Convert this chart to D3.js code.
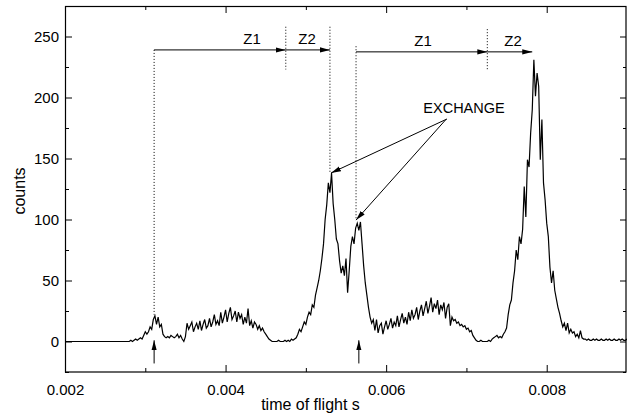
<!DOCTYPE html>
<html>
<head>
<meta charset="utf-8">
<script src="https://cdn.jsdelivr.net/npm/d3@7"></script>
<style>
body { margin: 0; background: #fff; }
svg { display: block; font-family: 'Liberation Sans', Arial, sans-serif; }
</style>
</head>
<body>
<svg id="chart" width="627" height="419"></svg>
<script>
// time of flight spectrum, one value per 20 us bin starting at 2 ms
var t_start = 0.002;
var bin_width = 0.00002;
var counts = [
    0,0,0,0,0,0,0,0,0,0, 0,0,0,0,0,0,0,0,0,0, 0,0,0,0,0,0,0,0,0,0, 0,0,0,0,0,0,0,0,0,0,
    0,1,0,1,2,1,2,3,2,
    5,8,6,
    8,12,10,18,21,14,20,12,14,6,4,
    3,4,3,5,4,3,4,6,3,5,2,
    0,4,
    15,10,13,16,8,12,15,10,17,9,14,18,11,13,19,12,16,22,14,17,13,24,15,20,26,16,23,28,18,21,25,16,24,19,
    22,14,20,15,27,13,17,11,16,14,10,13,9,11,8,6,4,2,1,0,
    0,0,0,1,0,0,0,1,0,1,0,2,1,2,
    3,6,10,8,12,16,14,20,24,22,30,28,38,44,50,58,68,80,100,112,130,122,138,113,100,
    84,80,66,56,62,54,68,40,58,78,86,80,93,97,91,98,80,62,48,38,28,20,15,18,
    9,18,7,13,15,6,12,17,10,14,19,11,16,13,21,12,18,23,15,20,14,24,17,26,19,22,28,18,25,30,
    21,27,33,23,29,36,24,31,27,34,22,30,26,32,19,28,31,13,
    20,17,18,15,16,13,14,12,13,10,11,8,9,5,3,1,0,
    0,1,0,0,0,0,1,0,2,3,4,5,3,4,3,6,
    8,11,22,30,34,48,58,75,67,86,80,92,127,102,149,143,171,190,231,201,
    220,209,149,182,130,116,97,86,61,48,58,42,35,28,23,17,12,15,9,15,7,10,7,8,4,6,3,9,3,2,
    2,1,2,1,1,2,1,2,1,1,2,1,1,2,1,2,1,1,2,1,1,2,1,2,1,1,2
];

var x_ticks = [0.002, 0.004, 0.006, 0.008];
var x_minor = [0.003, 0.005, 0.007, 0.009];
var y_ticks = [0, 50, 100, 150, 200, 250];
var y_minor = [-25, 25, 75, 125, 175, 225, 275];

// annotations, in data units: [t, counts from, counts to]
var dotted_lines = [
    [0.00311, 239, 22],
    [0.00475, 258, 223],
    [0.00530, 258, 138],
    [0.005625, 242, 100],
    [0.00726, 256, 223],
];
// [t from, t to, counts]
var z_arrows = [
    [0.00311, 0.00475, 239],
    [0.00475, 0.00530, 239],
    [0.005625, 0.00726, 237.4],
    [0.00726, 0.00782, 237.4],
];
var z_labels = [
    ['Z1', 0.00433, 244],
    ['Z2', 0.005014, 244],
    ['Z1', 0.006459, 242],
    ['Z2', 0.00758, 242],
];
var exchange_label = ['EXCHANGE', 0.00697, 187.3];
// [t from, c from, t to, c to]
var exchange_arrows = [
    [0.006758, 182.4, 0.005313, 138.1],
    [0.006745, 182.0, 0.005625, 99.5],
];
var up_arrows = [0.00311, 0.00566];

var svg = d3.select('#chart');

var x = d3.scaleLinear().domain([0.002, 0.009]).range([65, 627]);
var y = d3.scaleLinear().domain([-25, 275]).range([372, 6]);

svg.append('defs').append('marker')
    .attr('id', 'head')
    .attr('markerUnits', 'userSpaceOnUse')
    .attr('viewBox', '0 -3 10 6')
    .attr('refX', 10)
    .attr('refY', 0)
    .attr('markerWidth', 10)
    .attr('markerHeight', 6)
    .attr('orient', 'auto')
  .append('path')
    .attr('d', 'M0,-2.6L10,0L0,2.6Z')
    .attr('fill', '#000');

// axes, ticks pointing in
function axis_group(gen, tx, ty) {
    var g = svg.append('g')
        .attr('transform', 'translate(' + tx + ',' + ty + ')')
        .call(gen);
    g.select('.domain').remove();
    g.selectAll('line').attr('stroke', '#000');
    g.selectAll('text')
        .attr('font-size', 15)
        .attr('font-family', null)
        .attr('fill', '#000');
    return g;
}

axis_group(d3.axisBottom(x).tickValues(x_ticks).tickSize(-7).tickPadding(12)
    .tickFormat(d3.format('.3f')), 0, 372);
axis_group(d3.axisBottom(x).tickValues(x_minor).tickSize(-4).tickFormat(''), 0, 372);
axis_group(d3.axisTop(x).tickValues(x_ticks).tickSize(-7).tickFormat(''), 0, 6);
axis_group(d3.axisTop(x).tickValues(x_minor).tickSize(-4).tickFormat(''), 0, 6);

axis_group(d3.axisLeft(y).tickValues(y_ticks).tickSize(-7).tickPadding(6), 65, 0);
axis_group(d3.axisLeft(y).tickValues(y_minor).tickSize(-4).tickFormat(''), 65, 0);
axis_group(d3.axisRight(y).tickValues(y_ticks).tickSize(-6).tickFormat(''), 626, 0);
axis_group(d3.axisRight(y).tickValues(y_minor).tickSize(-3).tickFormat(''), 626, 0);

svg.append('rect')
    .attr('x', 65.5)
    .attr('y', 6.5)
    .attr('width', 560.5)
    .attr('height', 365.5)
    .attr('fill', 'none')
    .attr('stroke', '#000')
    .attr('stroke-width', 1.2);

// spectrum
var line = d3.line()
    .x(function(d, i) { return x(t_start + i * bin_width); })
    .y(function(d) { return y(d); });

svg.append('path')
    .datum(counts)
    .attr('d', line)
    .attr('fill', 'none')
    .attr('stroke', '#000')
    .attr('stroke-width', 1.2)
    .attr('stroke-linejoin', 'miter');

// annotations
svg.selectAll('line.dotted')
    .data(dotted_lines)
    .enter().append('line')
        .attr('class', 'dotted')
        .attr('x1', d => x(d[0]))
        .attr('x2', d => x(d[0]))
        .attr('y1', d => y(d[1]))
        .attr('y2', d => y(d[2]))
        .attr('stroke', '#000')
        .attr('stroke-width', 1)
        .attr('stroke-dasharray', '1,2');

svg.selectAll('line.zarrow')
    .data(z_arrows)
    .enter().append('line')
        .attr('class', 'zarrow')
        .attr('x1', d => x(d[0]))
        .attr('x2', d => x(d[1]))
        .attr('y1', d => y(d[2]))
        .attr('y2', d => y(d[2]))
        .attr('stroke', '#000')
        .attr('stroke-width', 1)
        .attr('marker-end', 'url(#head)');

svg.selectAll('line.exarrow')
    .data(exchange_arrows)
    .enter().append('line')
        .attr('class', 'exarrow')
        .attr('x1', d => x(d[0]))
        .attr('y1', d => y(d[1]))
        .attr('x2', d => x(d[2]))
        .attr('y2', d => y(d[3]))
        .attr('stroke', '#000')
        .attr('stroke-width', 1)
        .attr('marker-end', 'url(#head)');

svg.selectAll('line.uparrow')
    .data(up_arrows)
    .enter().append('line')
        .attr('class', 'uparrow')
        .attr('x1', d => x(d))
        .attr('x2', d => x(d))
        .attr('y1', y(-18))
        .attr('y2', y(1))
        .attr('stroke', '#000')
        .attr('stroke-width', 1)
        .attr('marker-end', 'url(#head)');

svg.selectAll('text.zlabel')
    .data(z_labels)
    .enter().append('text')
        .attr('class', 'zlabel')
        .attr('x', d => x(d[1]))
        .attr('y', d => y(d[2]))
        .attr('text-anchor', 'middle')
        .attr('font-size', 15)
        .text(d => d[0]);

svg.append('text')
    .attr('x', x(exchange_label[1]))
    .attr('y', y(exchange_label[2]))
    .attr('text-anchor', 'middle')
    .attr('font-size', 14.5)
    .text(exchange_label[0]);

// axis titles
svg.append('text')
    .attr('x', 310.5)
    .attr('y', 410)
    .attr('text-anchor', 'middle')
    .attr('font-size', 16)
    .text('time of flight s');

svg.append('text')
    .attr('transform', 'translate(25,191) rotate(-90)')
    .attr('text-anchor', 'middle')
    .attr('font-size', 16)
    .text('counts');
</script>
</body>
</html>
